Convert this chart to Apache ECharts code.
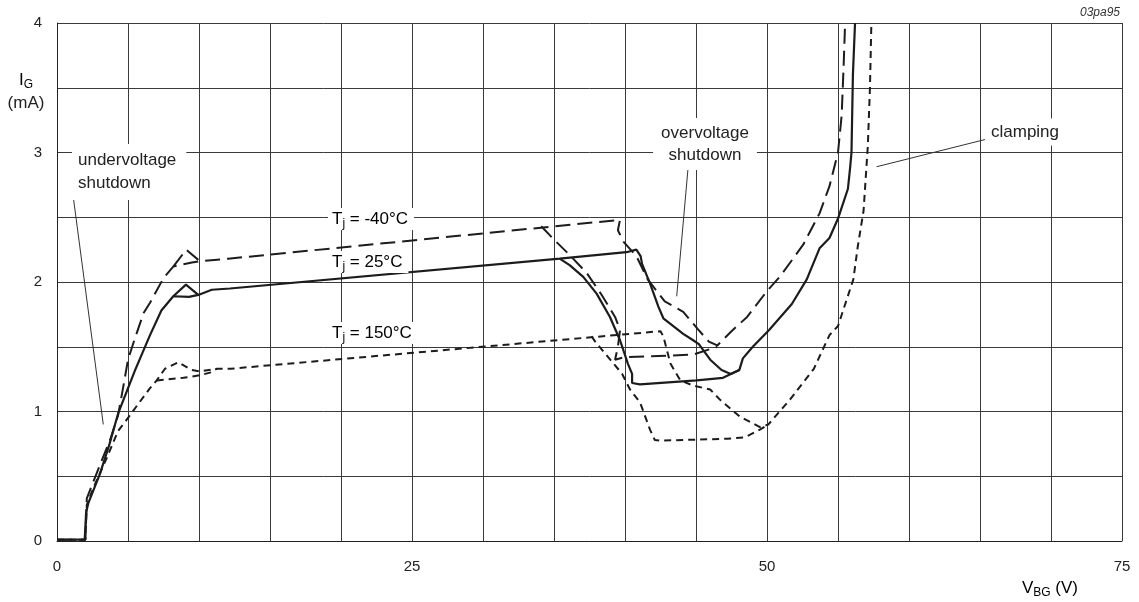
<!DOCTYPE html>
<html><head><meta charset="utf-8">
<script src="https://cdn.jsdelivr.net/npm/echarts/dist/echarts.min.js"></script>
<style>html,body{margin:0;padding:0;background:#fff}#c{width:1139px;height:602px}</style>
</head><body><div id="c"></div>
<script>
// axis tick labels
const xTickLabels = [0, 25, 50, 75];
const yTickLabels = [0, 1, 2, 3, 4];

// Tj = -40 C (long dash)
const tm40Main = [[0,0.01],[2.0,0.01],[2.1,0.33],[3.0,0.58],[3.8,0.80],[4.3,0.97],[4.65,1.18],[5.0,1.40],[5.5,1.57],[6.1,1.76],[6.55,1.84],[7.5,2.03],[8.2,2.12],[9.5,2.15],[10.07,2.16],[12.06,2.18],[39.65,2.48],[39.5,2.40],[39.9,2.31],[40.8,2.20],[41.6,2.02],[42.8,1.85],[44.1,1.77],[45.1,1.64],[45.9,1.54],[46.5,1.51],[47.5,1.62],[48.6,1.73],[50.0,1.93],[50.9,2.04],[52.56,2.29],[53.7,2.53],[54.4,2.74],[55.0,3.0],[55.26,3.29],[55.4,3.68],[55.5,4.0]];
const tm40Loop = [[8.2,2.12],[9.1,2.25],[10.07,2.16]];
const tm40Branch = [[34.1,2.43],[35.07,2.32],[36.0,2.22],[37.3,2.07],[38.36,1.90],[39.3,1.73],[39.65,1.63],[39.5,1.50],[39.3,1.40],[40.0,1.42],[42.9,1.43],[44.8,1.44],[46.5,1.50]];

// Tj = 25 C (solid)
const t25Main = [[0,0.01],[1.95,0.01],[2.05,0.22],[2.2,0.29],[3.03,0.52],[3.7,0.75],[4.32,0.99],[5.5,1.32],[6.55,1.59],[7.35,1.78],[8.19,1.89],[9.3,1.885],[9.95,1.90],[10.9,1.94],[12.18,1.95],[35.4,2.18],[40.1,2.23],[40.8,2.25],[41.1,2.20],[41.2,2.14],[41.76,1.99],[42.35,1.81],[42.7,1.72],[43.4,1.66],[44.1,1.60],[44.8,1.55],[45.2,1.52],[46.0,1.40],[46.8,1.32],[47.45,1.29],[48.05,1.32],[48.3,1.41],[49.0,1.50],[50.15,1.63],[51.75,1.83],[52.8,2.02],[53.7,2.26],[54.4,2.34],[55.0,2.49],[55.7,2.72],[55.85,2.88],[55.95,3.0],[56.05,3.6],[56.2,4.0]];
const t25Loop = [[8.19,1.89],[9.08,1.98],[9.95,1.90]];
const t25Branch = [[35.4,2.18],[36.1,2.13],[37.06,2.04],[38.0,1.91],[38.94,1.73],[39.65,1.55],[40.2,1.37],[40.5,1.29],[40.5,1.22],[41.05,1.21],[45.05,1.24],[46.9,1.26],[48.05,1.32]];

// Tj = 150 C (short dash)
const t150Main = [[0,0.01],[2.0,0.01],[2.1,0.28],[2.6,0.42],[3.5,0.64],[4.3,0.85],[5.0,0.95],[5.8,1.07],[6.55,1.18],[7.02,1.24],[7.6,1.33],[8.54,1.38],[9.48,1.32],[10.07,1.31],[11.25,1.33],[12.2,1.33],[42.5,1.62],[42.7,1.58],[43.2,1.37],[43.9,1.24],[44.8,1.20],[46.0,1.17],[46.7,1.09],[48.1,0.96],[49.5,0.88],[50.1,0.90],[51.6,1.09],[53.3,1.33],[54.4,1.59],[55.0,1.66],[55.6,1.86],[56.08,2.02],[56.4,2.28],[56.8,2.55],[57.1,3.05],[57.25,3.5],[57.35,4.0]];
const t150Loop = [[7.02,1.24],[8.9,1.26],[10.07,1.28],[10.77,1.30],[11.25,1.33]];
const t150Branch = [[37.65,1.58],[37.9,1.54],[38.5,1.46],[39.2,1.37],[39.8,1.29],[40.35,1.17],[41.06,1.07],[41.76,0.86],[42.1,0.78],[42.5,0.775],[47.2,0.79],[48.45,0.80],[49.5,0.86],[50.1,0.90]];

// annotation leader lines
const leadUnder = [[1.13,2.67],[3.26,0.90]];
const leadOver = [[44.44,2.88],[43.64,1.89]];
const leadClamp = [[57.72,2.89],[65.35,3.10]];

const FONT = '"Liberation Sans", Arial, Helvetica, sans-serif';
const INK = '#1c1c1c';

function curve(data, dash, w) {
  return { type: 'line', data: data, symbol: 'none', showSymbol: false, silent: true,
    lineStyle: { color: INK, width: w, type: dash }, z: 3 };
}
function leader(data) {
  return { type: 'line', data: data, symbol: 'none', showSymbol: false, silent: true,
    lineStyle: { color: '#333', width: 1 }, z: 2 };
}
const LONG = [15, 7], SHORT = [7, 5];

const series = [
  curve(tm40Main, LONG, 2), curve(tm40Loop, LONG, 2), curve(tm40Branch, LONG, 2),
  curve(t25Main, 'solid', 2.2), curve(t25Loop, 'solid', 2.2), curve(t25Branch, 'solid', 2.2),
  curve(t150Main, SHORT, 2), curve(t150Loop, SHORT, 2), curve(t150Branch, SHORT, 2),
  leader(leadUnder), leader(leadOver), leader(leadClamp)
];

const rich = {
  a: { fontSize: 17, fontFamily: FONT, color: '#222', lineHeight: 22 },
  s: { fontSize: 12, fontFamily: FONT, color: '#222', verticalAlign: 'bottom', lineHeight: 22 }
};
function tlabel(text, x, y) {
  return { type: 'text', z: 100, x: x, y: y,
    style: { text: text, rich: rich, backgroundColor: '#fff', padding: [0, 6, 0, 4],
      textAlign: 'left', textVerticalAlign: 'middle' } };
}

const chart = echarts.init(document.getElementById('c'), null, { renderer: 'canvas' });
chart.setOption({
  animation: false,
  backgroundColor: '#fff',
  grid: { left: 57, right: 17, top: 23, bottom: 61, containLabel: false },
  xAxis: {
    type: 'value', min: 0, max: 75, interval: 5,
    axisLine: { show: true, lineStyle: { color: '#222', width: 1 } },
    axisTick: { show: false },
    splitLine: { show: true, lineStyle: { color: '#3a3a3a', width: 1 } },
    axisLabel: { margin: 18, fontSize: 15, fontFamily: FONT, color: '#222',
      showMinLabel: true, showMaxLabel: true,
      formatter: v => xTickLabels.indexOf(v) >= 0 ? String(v) : '' }
  },
  yAxis: {
    type: 'value', min: 0, max: 4, interval: 0.5,
    axisLine: { show: true, lineStyle: { color: '#222', width: 1 } },
    axisTick: { show: false },
    splitLine: { show: true, lineStyle: { color: '#3a3a3a', width: 1 } },
    axisLabel: { margin: 15, fontSize: 15, fontFamily: FONT, color: '#222',
      formatter: v => yTickLabels.indexOf(v) >= 0 ? String(v) : '' }
  },
  series: series,
  graphic: [
    { type: 'text', z: 100, x: 1120, y: 13,
      style: { text: '03pa95', font: 'italic 12px ' + FONT, fill: '#333', textAlign: 'right', textVerticalAlign: 'middle' } },
    { type: 'text', z: 100, x: 26, y: 80,
      style: { text: '{a|I}{s|G}', rich: rich, textAlign: 'center', textVerticalAlign: 'middle' } },
    { type: 'text', z: 100, x: 26, y: 103,
      style: { text: '(mA)', font: '17px ' + FONT, fill: '#222', textAlign: 'center', textVerticalAlign: 'middle' } },
    { type: 'text', z: 100, x: 1050, y: 588,
      style: { text: '{a|V}{s|BG}{a| (V)}', rich: rich, textAlign: 'center', textVerticalAlign: 'middle' } },
    { type: 'text', z: 100, x: 72, y: 172,
      style: { text: 'undervoltage\nshutdown', font: '17px ' + FONT, fill: '#222', lineHeight: 23,
        backgroundColor: '#fff', padding: [5, 10, 5, 6], textAlign: 'left', textVerticalAlign: 'middle' } },
    { type: 'text', z: 100, x: 705, y: 144,
      style: { text: 'overvoltage\nshutdown', font: '17px ' + FONT, fill: '#222', lineHeight: 22, align: 'center',
        backgroundColor: '#fff', padding: [4, 8, 4, 8], textAlign: 'center', textVerticalAlign: 'middle' } },
    { type: 'text', z: 100, x: 985, y: 132,
      style: { text: 'clamping', font: '17px ' + FONT, fill: '#222',
        backgroundColor: '#fff', padding: [5, 6, 5, 6], textAlign: 'left', textVerticalAlign: 'middle' } },
    tlabel('{a|T}{s|j}{a| = -40°C}', 328, 219),
    tlabel('{a|T}{s|j}{a| = 25°C}', 328, 262),
    tlabel('{a|T}{s|j}{a| = 150°C}', 328, 333)
  ]
});
</script>
</body></html>
